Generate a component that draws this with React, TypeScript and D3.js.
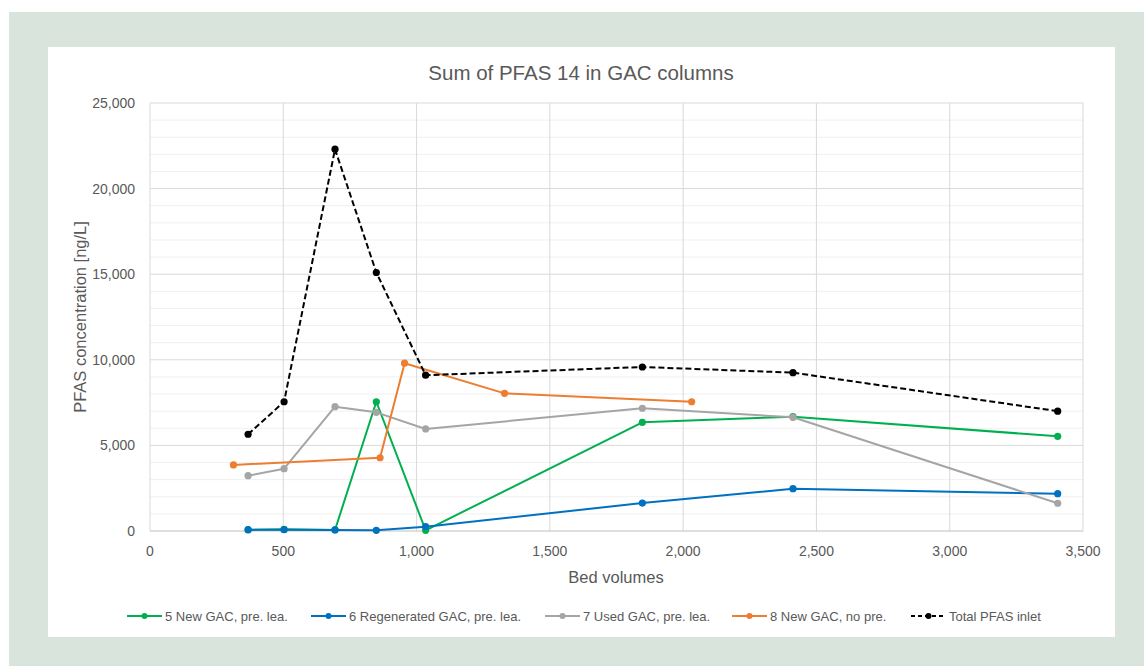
import React from 'react';
import * as d3 from 'd3';

// bed volumes per sampling point
const bedVolumes = [368, 503, 694, 849, 1034, 1847, 2412, 3405];
const bedVolumesNoPre = [313, 863, 955, 1330, 2032];

// PFAS sum, ng/L
const newGacPre = [60, 100, 60, 7550, 40, 6350, 6680, 5530];
const regenGacPre = [80, 80, 60, 40, 250, 1630, 2470, 2180];
const usedGacPre = [3230, 3640, 7260, 6930, 5960, 7170, 6640, 1620];
const newGacNoPre = [3860, 4280, 9800, 8040, 7550];
const totalInlet = [5650, 7550, 22300, 15100, 9100, 9580, 9250, 7000];

const xTicks = [0, 500, 1000, 1500, 2000, 2500, 3000, 3500];
const yTicks = [0, 5000, 10000, 15000, 20000, 25000];

const seriesNames = [
  '5 New GAC, pre. lea.',
  '6 Regenerated GAC, pre. lea.',
  '7 Used GAC, pre. lea.',
  '8 New GAC, no pre.',
  'Total PFAS inlet',
];

const FONT = "'Liberation Sans', Arial, sans-serif";
const TXT = '#595959';

export default function App() {
  const W = 1144;
  const H = 666;
  const plot = { left: 150, right: 1083, top: 103, bottom: 531 };

  const x = d3.scaleLinear().domain([0, 3500]).range([plot.left, plot.right]);
  const y = d3.scaleLinear().domain([0, 25000]).range([plot.bottom, plot.top]);
  const fmt = d3.format(',');

  const series = [
    { name: seriesNames[0], xs: bedVolumes, ys: newGacPre, color: '#00b050', dash: null },
    { name: seriesNames[1], xs: bedVolumes, ys: regenGacPre, color: '#0070c0', dash: null },
    { name: seriesNames[2], xs: bedVolumes, ys: usedGacPre, color: '#a5a5a5', dash: null },
    { name: seriesNames[3], xs: bedVolumesNoPre, ys: newGacNoPre, color: '#ed7d31', dash: null },
    { name: seriesNames[4], xs: bedVolumes, ys: totalInlet, color: '#000000', dash: '6,3' },
  ];

  const line = d3
    .line<[number, number]>()
    .x(d => x(d[0]))
    .y(d => y(d[1]));

  const minorTicks = d3.range(0, 25001, 1000).filter(v => v % 5000 !== 0);

  // legend item positions
  const legendX = [127, 311, 545, 732, 911];
  const legendY = 616;

  return (
    <>
      <style>{'body{margin:0}'}</style>
      <svg width={W} height={H} style={{ display: 'block', fontFamily: FONT }}>
        <rect x={0} y={0} width={W} height={H} fill="#ffffff" />
        <rect x={9} y={12} width={W - 9} height={H - 12} fill="#d9e4dd" />
        <rect x={48} y={47} width={1067} height={590} fill="#ffffff" />

        <text x={581} y={80} textAnchor="middle" fontSize={20.5} fill={TXT}>
          Sum of PFAS 14 in GAC columns
        </text>

        {/* gridlines */}
        {minorTicks.map(v => (
          <line key={'m' + v} x1={plot.left} x2={plot.right} y1={y(v)} y2={y(v)} stroke="#f0f0f0" strokeWidth={1} />
        ))}
        {yTicks.slice(1).map(v => (
          <line key={'y' + v} x1={plot.left} x2={plot.right} y1={y(v)} y2={y(v)} stroke="#d9d9d9" strokeWidth={1} />
        ))}
        {xTicks.map(v => (
          <line key={'x' + v} x1={x(v)} x2={x(v)} y1={plot.top} y2={plot.bottom} stroke="#d9d9d9" strokeWidth={1} />
        ))}
        <line x1={plot.left} x2={plot.right} y1={plot.bottom} y2={plot.bottom} stroke="#bfbfbf" strokeWidth={1} />

        {/* tick labels */}
        {yTicks.map(v => (
          <text key={'yl' + v} x={135} y={y(v)} dy="0.35em" textAnchor="end" fontSize={14} fill={TXT}>
            {fmt(v)}
          </text>
        ))}
        {xTicks.map(v => (
          <text key={'xl' + v} x={x(v)} y={556} textAnchor="middle" fontSize={14} fill={TXT}>
            {fmt(v)}
          </text>
        ))}

        <text x={616} y={583} textAnchor="middle" fontSize={16.5} fill={TXT}>
          Bed volumes
        </text>
        <text
          transform={`translate(86, ${(plot.top + plot.bottom) / 2}) rotate(-90)`}
          textAnchor="middle"
          fontSize={16.5}
          fill={TXT}
        >
          PFAS concentration [ng/L]
        </text>

        {/* series */}
        {series.map(s => {
          const pts = s.xs.map((v, i) => [v, s.ys[i]] as [number, number]);
          return (
            <g key={s.name}>
              <path
                d={line(pts) || ''}
                fill="none"
                stroke={s.color}
                strokeWidth={2}
                strokeDasharray={s.dash || undefined}
                strokeLinejoin="round"
              />
              {pts.map((p, i) => (
                <circle key={i} cx={x(p[0])} cy={y(p[1])} r={3.6} fill={s.color} />
              ))}
            </g>
          );
        })}

        {/* legend */}
        {series.map((s, i) => (
          <g key={'lg' + i} transform={`translate(${legendX[i]}, ${legendY})`}>
            <line x1={0} x2={35} y1={0} y2={0} stroke={s.color} strokeWidth={2} strokeDasharray={s.dash ? '4,3' : undefined} />
            <circle cx={17.5} cy={0} r={3} fill={s.color} />
            <text x={38} y={0} dy="0.35em" fontSize={13} fill={TXT}>
              {s.name}
            </text>
          </g>
        ))}
      </svg>
    </>
  );
}
